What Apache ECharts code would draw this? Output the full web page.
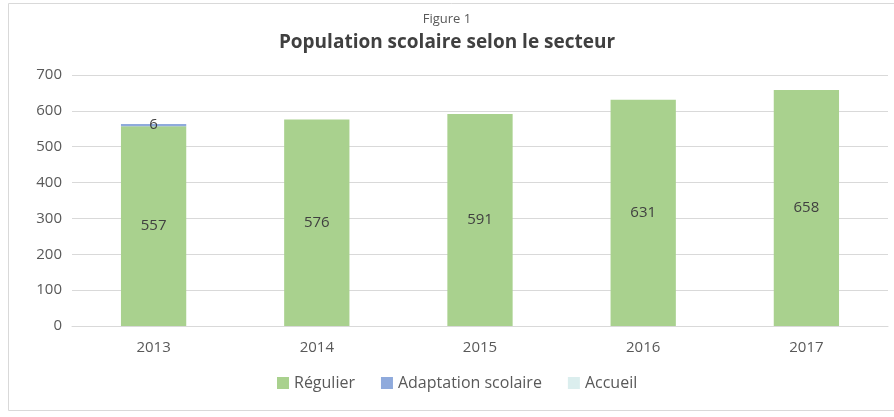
<!DOCTYPE html>
<html>
<head>
<meta charset="utf-8">
<script src="https://cdn.jsdelivr.net/npm/echarts@6/dist/echarts.min.js"></script>
<style>
  html, body { margin: 0; padding: 0; background: #fff; }
  #chart { width: 894px; height: 417px; }
</style>
</head>
<body>
<div id="chart"></div>
<script>
// Données
const years = ['2013', '2014', '2015', '2016', '2017'];
const regulier = [557, 576, 591, 631, 658];
const adaptation = [6, 0, 0, 0, 0];
const accueil = [0, 0, 0, 0, 0];
const yTicks = [0, 100, 200, 300, 400, 500, 600, 700];

const font = '"Open Sans", Lato, sans-serif';
const chart = echarts.init(document.getElementById('chart'));

chart.setOption({
  textStyle: { fontFamily: font },
  animation: false,
  graphic: [
    {
      type: 'rect',
      shape: { x: 8.5, y: 3.5, width: 900, height: 407 },
      style: { fill: 'none', stroke: '#d9d9d9', lineWidth: 1 },
      silent: true
    }
  ],
  title: [
    {
      text: 'Figure 1',
      left: 'center',
      top: 8,
      textStyle: { fontFamily: font, fontSize: 13, fontWeight: 'normal', color: '#595959' }
    },
    {
      text: 'Population scolaire selon le secteur',
      left: 'center',
      top: 28,
      textStyle: { fontFamily: font, fontSize: 19, fontWeight: 'bold', color: '#404040' }
    }
  ],
  legend: {
    top: 370,
    left: 272,
    itemWidth: 12,
    itemHeight: 12,
    itemGap: 26,
    icon: 'rect',
    textStyle: { fontFamily: font, fontSize: 16, color: '#595959' },
    data: ['Régulier', 'Adaptation scolaire', 'Accueil']
  },
  grid: { left: 72, right: 6, top: 75, bottom: 91 },
  xAxis: {
    type: 'category',
    data: years,
    axisTick: { show: false },
    axisLine: { lineStyle: { color: '#d9d9d9' } },
    axisLabel: { fontFamily: font, fontSize: 15, color: '#595959', margin: 14 }
  },
  yAxis: {
    type: 'value',
    min: yTicks[0],
    max: yTicks[yTicks.length - 1],
    interval: 100,
    axisLine: { show: false },
    axisTick: { show: false },
    splitLine: { lineStyle: { color: '#d9d9d9' } },
    axisLabel: { fontFamily: font, fontSize: 15, color: '#595959', margin: 10 }
  },
  series: [
    {
      name: 'Régulier',
      type: 'bar',
      stack: 'total',
      barWidth: '40%',
      data: regulier,
      itemStyle: { color: '#a9d18e' },
      label: { show: true, position: 'inside', fontFamily: font, fontSize: 15, color: '#404040' }
    },
    {
      name: 'Adaptation scolaire',
      type: 'bar',
      stack: 'total',
      data: adaptation,
      itemStyle: { color: '#8faadc' },
      label: {
        show: true,
        position: 'inside',
        fontFamily: font,
        fontSize: 15,
        color: '#404040',
        formatter: p => (p.value ? p.value : '')
      }
    },
    {
      name: 'Accueil',
      type: 'bar',
      stack: 'total',
      data: accueil,
      itemStyle: { color: '#dbeeee' }
    }
  ]
});
</script>
</body>
</html>
